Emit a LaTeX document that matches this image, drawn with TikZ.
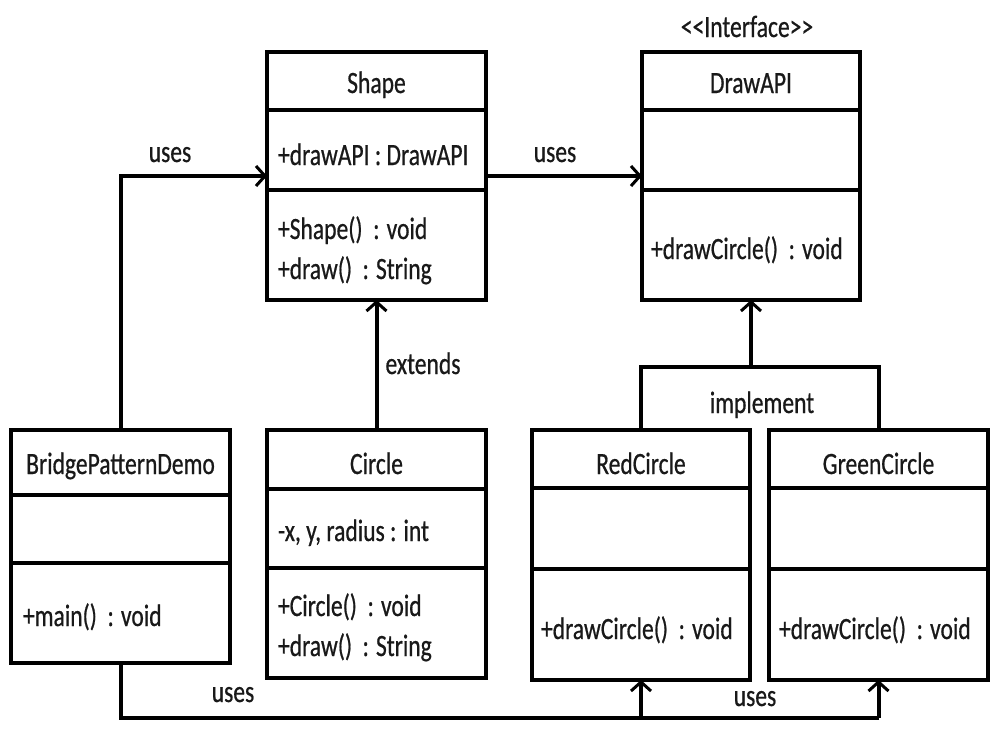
\documentclass[tikz,border=0pt]{standalone}
\usepackage{fontspec}
\setmainfont{Carlito}[FakeStretch=0.76,FakeBold=0.6]
\usetikzlibrary{arrows.meta}
\begin{document}
\begin{tikzpicture}[x=1pt,y=-1pt,
  every node/.style={font=\fontsize{31}{36}\selectfont, text=black!90, inner sep=0pt, outer sep=0pt},
  cls/.style={draw=black, line width=4pt, rectangle, fill=white},
  sep/.style={line width=4pt},
  conn/.style={line width=4pt},
  arr/.style={line width=4pt, -{Straight Barb[length=9pt,width=20pt,line width=3pt]}},
  lbl/.style={anchor=base},
  member/.style={anchor=base west}]
\useasboundingbox[fill=white] (0,0) rectangle (997,736);

% class boxes
\node[cls, minimum width=219pt, minimum height=248pt] (shape) at (376.5,176) {};
\node[cls, minimum width=218pt, minimum height=248pt] (drawapi) at (751,176) {};
\node[cls, minimum width=219pt, minimum height=233pt] (bpd) at (120.5,546.5) {};
\node[cls, minimum width=219pt, minimum height=248pt] (circle) at (376.5,554) {};
\node[cls, minimum width=218pt, minimum height=250pt] (red) at (641,555) {};
\node[cls, minimum width=219pt, minimum height=250pt] (green) at (878.5,555) {};

% separators
\draw[sep] (shape.west |- 0,110) -- (shape.east |- 0,110);
\draw[sep] (shape.west |- 0,190) -- (shape.east |- 0,190);
\draw[sep] (drawapi.west |- 0,110) -- (drawapi.east |- 0,110);
\draw[sep] (drawapi.west |- 0,190) -- (drawapi.east |- 0,190);
\draw[sep] (bpd.west |- 0,495) -- (bpd.east |- 0,495);
\draw[sep] (bpd.west |- 0,563) -- (bpd.east |- 0,563);
\draw[sep] (circle.west |- 0,489) -- (circle.east |- 0,489);
\draw[sep] (circle.west |- 0,568) -- (circle.east |- 0,568);
\draw[sep] (red.west |- 0,488) -- (red.east |- 0,488);
\draw[sep] (red.west |- 0,569) -- (red.east |- 0,569);
\draw[sep] (green.west |- 0,488) -- (green.east |- 0,488);
\draw[sep] (green.west |- 0,569) -- (green.east |- 0,569);

% class texts
\node[lbl] (shapeT) at (376.5,93) {Shape};
\node[member] (shapeA) at (278,165) {+drawAPI : DrawAPI};
\node[member] (shapeM1) at (278,239) {+Shape() \ : void};
\node[member] (shapeM2) at (278,279) {+draw() \,: String};

\node[lbl] (ifc) at (747,37) {<{}<Interface>{}>};
\node[lbl] (drawT) at (751,93) {DrawAPI};
\node[member] (drawM) at (651,259) {+drawCircle() \ : void};

\node[lbl] (bpdT) at (120.5,474) {BridgePatternDemo};
\node[member] (bpdM) at (23,626) {+main() \ : void};

\node[lbl] (circT) at (376.5,474) {Circle};
\node[member] (circA) at (278,541) {-x, y, radius : int};
\node[member] (circM1) at (278,616) {+Circle() \ : void};
\node[member] (circM2) at (278,656) {+draw() \,: String};

\node[lbl] (redT) at (641,474) {RedCircle};
\node[member] (redM) at (541,639) {+drawCircle() \ : void};

\node[lbl] (greenT) at (878.5,474) {GreenCircle};
\node[member] (greenM) at (779,639) {+drawCircle() \ : void};

% connectors
\draw[arr] (bpd.north) |- (shape.west);
\node[lbl] (uses1) at (170,162) {uses};

\draw[arr] (shape.east) -- (drawapi.west);
\node[lbl] (uses2) at (555,162) {uses};

\draw[arr] (circle.north) -- (shape.south);
\node[lbl] (ext) at (423,374) {extends};

\coordinate (impY) at (0,367);
\coordinate (imp) at (drawapi.south |- impY);
\draw[conn] (red.north) -- (red.north |- impY) -- (green.north |- impY) -- (green.north);
\draw[arr] (imp) -- (drawapi.south);
\node[lbl] (impl) at (762,413) {implement};

\coordinate (botY) at (0,718);
\draw[conn] (bpd.south) -- (bpd.south |- botY) -- (green.south |- botY);
\draw[arr] (red.south |- botY) -- (red.south);
\draw[arr] (green.south |- botY) -- (green.south);
\node[lbl] (uses3) at (233,702) {uses};
\node[lbl] (uses4) at (755,706) {uses};
\end{tikzpicture}
\end{document}
